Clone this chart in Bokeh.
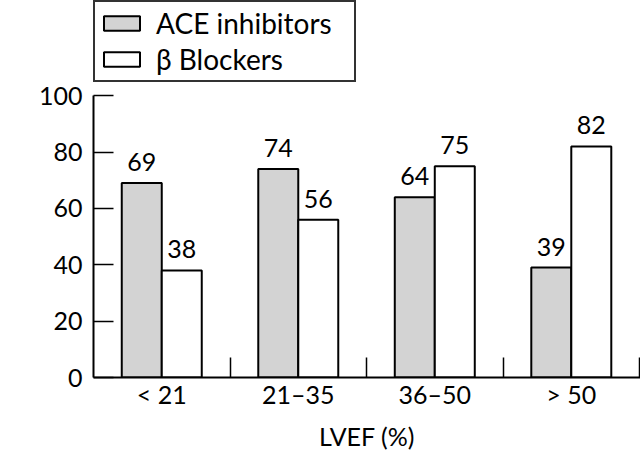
from bokeh.plotting import figure
from bokeh.models import ColumnDataSource, Range1d, FixedTicker, Legend, LegendItem, Label
from bokeh.core.properties import value
from bokeh.embed import file_html
from bokeh.resources import INLINE

# ---- data ----
categories = ["< 21", "21–35", "36–50", "> 50"]
ace_inhibitors = [69, 74, 64, 39]
beta_blockers = [38, 56, 75, 82]
y_ticks = [0, 20, 40, 60, 80, 100]
series_names = ["ACE inhibitors", "β Blockers"]
x_title = "LVEF (%)"
y_title = "%"

FONT = "Lato"
n = len(categories)
centers = [i + 0.5 for i in range(n)]
boundaries = [i + 1 for i in range(n)]
bw = 0.293
off = bw / 2

src = ColumnDataSource(dict(
    x_ace=[c - off for c in centers],
    x_beta=[c + off for c in centers],
    ace=ace_inhibitors,
    beta=beta_blockers,
    ace_txt=[str(v) for v in ace_inhibitors],
    beta_txt=[str(v) for v in beta_blockers],
))

p = figure(width=640, height=453, output_backend="svg", toolbar_location=None,
           x_range=Range1d(0, 4.007), y_range=Range1d(0, 133.8),
           min_border_left=93, min_border_right=0, min_border_top=0,
           min_border_bottom=76)
p.outline_line_color = None
p.xgrid.visible = False
p.ygrid.visible = False
p.background_fill_color = "white"
p.border_fill_color = "white"

r1 = p.vbar(x="x_ace", top="ace", bottom=0, width=bw, source=src,
            fill_color="#d3d3d3", line_color="black", line_width=2)
r2 = p.vbar(x="x_beta", top="beta", bottom=0, width=bw, source=src,
            fill_color="white", line_color="black", line_width=2)

for xcol, ycol, tcol in [("x_ace", "ace", "ace_txt"), ("x_beta", "beta", "beta_txt")]:
    p.text(x=xcol, y=ycol, text=tcol, source=src, text_align="center",
           text_baseline="alphabetic", y_offset=-21,
           text_font=value(FONT), text_font_size="25px", text_color="black")

# x axis
xa = p.xaxis[0]
xa.ticker = FixedTicker(ticks=centers, minor_ticks=boundaries)
xa.major_label_overrides = {c: lab for c, lab in zip(centers, categories)}
xa.major_tick_in = 0
xa.major_tick_out = 0
xa.minor_tick_in = 20
xa.minor_tick_out = 0
xa.minor_tick_line_color = "black"
xa.minor_tick_line_width = 1.5
xa.axis_line_color = "black"
xa.axis_line_width = 2
xa.major_label_text_font = FONT
xa.major_label_text_font_size = "25px"
xa.major_label_text_color = "black"
xa.major_label_standoff = 1
xa.axis_label = x_title
xa.axis_label_text_font = FONT
xa.axis_label_text_font_size = "25px"
xa.axis_label_text_font_style = "normal"
xa.axis_label_text_color = "black"
xa.axis_label_standoff = 9

# y axis
ya = p.yaxis[0]
ya.ticker = FixedTicker(ticks=y_ticks, minor_ticks=[])
ya.bounds = (0, 100)
ya.major_tick_in = 20
ya.major_tick_out = 0
ya.major_tick_line_color = "black"
ya.major_tick_line_width = 1.5
ya.axis_line_color = "black"
ya.axis_line_width = 2
ya.major_label_text_font = FONT
ya.major_label_text_font_size = "25px"
ya.major_label_text_color = "black"
ya.major_label_standoff = 11

p.add_layout(Label(x=-92, y=50, x_units="screen", y_units="data", text=y_title,
                   text_align="left", text_baseline="middle",
                   text_font=FONT, text_font_size="25px", text_color="black"))

legend = Legend(items=[LegendItem(label=series_names[0], renderers=[r1]),
                       LegendItem(label=series_names[1], renderers=[r2])],
                location="top_left", margin=0, padding=4, spacing=2,
                glyph_width=45, glyph_height=18, label_standoff=12,
                label_width=194, label_text_font=FONT, label_text_font_size="28px",
                label_text_color="black", border_line_color="#333333",
                border_line_alpha=1, border_line_width=2, background_fill_alpha=1)
p.add_layout(legend)

open("out.html", "w").write(file_html(p, INLINE))
